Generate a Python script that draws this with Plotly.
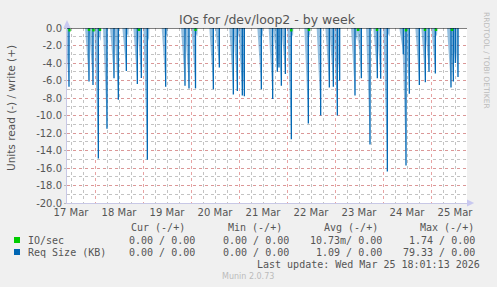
import pandas as pd
import plotly.graph_objects as go

# ---------------- data ----------------
req_times = [
    "2026-03-17 11:00", "2026-03-17 21:00", "2026-03-17 23:00", "2026-03-18 01:40",
    "2026-03-18 06:00", "2026-03-18 09:30", "2026-03-18 11:40", "2026-03-18 15:40",
    "2026-03-18 21:10", "2026-03-18 23:10", "2026-03-19 02:10", "2026-03-19 11:20",
    "2026-03-19 21:00", "2026-03-19 23:00", "2026-03-20 02:15", "2026-03-20 11:10",
    "2026-03-20 14:10", "2026-03-20 21:10", "2026-03-20 23:10", "2026-03-21 01:40",
    "2026-03-21 02:40", "2026-03-21 11:10", "2026-03-21 16:50", "2026-03-21 19:10",
    "2026-03-21 20:00", "2026-03-21 21:10", "2026-03-21 23:10", "2026-03-22 02:10",
    "2026-03-22 10:40", "2026-03-22 16:50", "2026-03-22 21:10", "2026-03-22 23:10",
    "2026-03-23 01:10", "2026-03-23 02:20", "2026-03-23 10:00", "2026-03-23 13:10",
    "2026-03-23 17:30", "2026-03-23 21:10", "2026-03-23 22:50", "2026-03-24 02:10",
    "2026-03-24 10:10", "2026-03-24 11:30", "2026-03-24 13:10", "2026-03-24 18:10",
    "2026-03-24 21:10", "2026-03-24 23:00", "2026-03-25 02:10", "2026-03-25 10:00",
    "2026-03-25 11:10", "2026-03-25 12:10", "2026-03-25 13:30",
]
req_read = [
    -6.7, -6.1, -6.5, -14.9,
    -11.5, -5.75, -8.2, -4.9,
    -6.4, -5.7, -15.05, -6.7,
    -6.6, -6.9, -6.9, -7.0,
    -4.5, -7.6, -7.2, -7.7,
    -7.8, -7.0, -8.1, -5.0,
    -4.5, -6.6, -5.25, -12.7,
    -10.9, -10.0, -6.8, -6.7,
    -10.0, -6.0, -7.7, -5.75,
    -13.3, -5.75, -5.8, -16.4,
    -3.0, -15.7, -7.5, -6.5,
    -6.2, -5.0, -5.2, -6.8,
    -6.1, -4.0, -5.6,
]
# faint short dips next to the main spikes
small_times = [
    "2026-03-17 10:20", "2026-03-18 02:50", "2026-03-18 16:40", "2026-03-19 03:00",
    "2026-03-19 12:10", "2026-03-20 03:10", "2026-03-20 23:40", "2026-03-21 11:50",
    "2026-03-22 03:00", "2026-03-22 11:30", "2026-03-23 11:10", "2026-03-24 03:15",
    "2026-03-25 03:00",
]
small_read = [-1.5, -1.5, -1.0, -1.5, -1.0, -1.0, -1.0, -1.0, -1.0, -1.0, -1.5, -1.0, -1.0]

io_times = [
    "2026-03-17 11:15", "2026-03-17 21:00", "2026-03-17 23:15", "2026-03-18 02:30",
    "2026-03-18 22:00", "2026-03-20 02:15", "2026-03-22 02:10", "2026-03-22 11:00",
    "2026-03-23 11:30", "2026-03-23 21:00", "2026-03-24 11:30", "2026-03-24 21:00",
    "2026-03-25 02:30", "2026-03-25 10:30",
]
io_read = [-0.25, -0.2, -0.25, -0.2, -0.2, -0.2, -0.25, -0.2, -0.2, -0.2, -0.25, -0.2, -0.2, -0.2]

x_start = "2026-03-17 10:00"
x_end = "2026-03-25 18:00"
y_ticks = [0, -2, -4, -6, -8, -10, -12, -14, -16, -18, -20]

legend_header = ["Cur (-/+)", "Min (-/+)", "Avg (-/+)", "Max (-/+)"]
legend_rows = [
    ("IO/sec", "#00CC00", ["0.00 / 0.00", "0.00 / 0.00", "10.73m/ 0.00", "1.74 / 0.00"]),
    ("Req Size (KB)", "#0066B3", ["0.00 / 0.00", "0.00 / 0.00", "1.09 / 0.00", "79.33 / 0.00"]),
]
last_update = "Last update: Wed Mar 25 18:01:13 2026"

# ---------------- build traces ----------------
BLUE = "#0066B3"
GREEN = "#00CC00"
h = pd.Timedelta(hours=1)

wx, wy, lx, ly = [], [], [], []
for t, v in zip(req_times + small_times, req_read + small_read):
    t = pd.Timestamp(t)
    wx += [t - 2.0 * h, t, t + 0.2 * h, None]
    wy += [0, v, 0, None]
for t, v in zip(req_times, req_read):
    t = pd.Timestamp(t)
    lx += [t, t, None]
    ly += [0, v, None]

gx, gy = [], []
for t, v in zip(io_times, io_read):
    t = pd.Timestamp(t)
    gx += [t - 0.6 * h, t, t + 0.6 * h, None]
    gy += [v, v, v, None]

fig = go.Figure()
fig.add_trace(go.Scatter(x=wx, y=wy, mode="lines", fill="toself",
                         fillcolor="rgba(0,102,179,0.42)", line=dict(width=0),
                         hoverinfo="skip", showlegend=False))
fig.add_trace(go.Scatter(x=lx, y=ly, mode="lines", line=dict(color=BLUE, width=1.3),
                         showlegend=False, name="Req Size (KB)"))
fig.add_trace(go.Scatter(x=gx, y=gy, mode="lines", line=dict(color=GREEN, width=2.5),
                         showlegend=False, name="IO/sec"))

TXT = "#555555"
fig.update_layout(
    width=497, height=287,
    margin=dict(l=67, r=30, t=28, b=84),
    paper_bgcolor="#F0F0F0", plot_bgcolor="#FFFFFF",
    font=dict(family="DejaVu Sans", size=10, color=TXT),
    showlegend=False,
    title=dict(text="IOs for /dev/loop2 - by week", x=0.5, xanchor="center",
               y=1 - 20 / 287, yanchor="middle", xref="paper",
               font=dict(family="DejaVu Sans", size=12.5, color="#555555")),
)
fig.update_xaxes(
    type="date", range=[x_start, x_end],
    tick0="2026-03-17 00:00", dtick=86400000, tickformat="%d %b",
    ticklabelmode="period", ticks="",
    showgrid=True, gridcolor="rgba(225,140,140,0.8)", griddash="dot", gridwidth=1,
    minor=dict(dtick=6 * 3600000, showgrid=True, gridcolor="rgba(185,185,185,0.85)",
               griddash="dot", gridwidth=1, ticks=""),
    showline=True, linecolor="#C8C8E6", linewidth=1,
    tickfont=dict(size=10, color=TXT), zeroline=False,
)
fig.update_yaxes(
    range=[-20, 0], tickvals=y_ticks, ticktext=[f"{v:.1f}" for v in y_ticks],
    ticks="outside", ticklen=2, tickcolor="#BBBBBB",
    showgrid=True, gridcolor="rgba(225,140,140,0.8)", griddash="dot", gridwidth=1,
    minor=dict(dtick=1, showgrid=True, gridcolor="rgba(185,185,185,0.85)",
               griddash="dot", gridwidth=1),
    showline=True, linecolor="#C8C8E6", linewidth=1,
    zeroline=False, tickfont=dict(size=10, color=TXT),
)

# zero line
fig.add_shape(type="line", xref="paper", yref="y", x0=0, x1=1, y0=0, y1=0,
              line=dict(color="#000000", width=1))
# axis arrows
fig.add_shape(type="path", xref="paper", yref="paper",
              path="M -0.009 1.0 L 0.009 1.0 L 0 1.046 Z",
              fillcolor="#C8C8F0", line=dict(width=0))
fig.add_shape(type="path", xref="paper", yref="paper",
              path="M 1.0 -0.02 L 1.0 0.02 L 1.018 0 Z",
              fillcolor="#C8C8F0", line=dict(width=0))

# ---------------- legend as text ----------------
MONO = "DejaVu Sans Mono"
def px_x(x):
    return (x - 67) / 400.0
def px_y(y):
    return (203 - y) / 175.0

def txt(x, y, s, anchor="left", color="#555555", size=10, family=MONO):
    fig.add_annotation(x=px_x(x), y=px_y(y), xref="paper", yref="paper", text=s,
                       showarrow=False, xanchor=anchor, yanchor="middle",
                       font=dict(family=family, size=size, color=color))

# y axis title
fig.add_annotation(x=px_x(11), y=px_y(108), xref="paper", yref="paper",
                   text="Units read (-) / write (+)", showarrow=False, textangle=-90,
                   xanchor="center", yanchor="middle",
                   font=dict(family="DejaVu Sans", size=10.5, color=TXT))

col_right = [197, 291, 384, 477]
head_right = [187, 284, 380, 476]
for hx, s in zip(head_right, legend_header):
    txt(hx, 227, s, anchor="right")
for (name, color, vals), yy in zip(legend_rows, [240, 252]):
    fig.add_shape(type="rect", xref="paper", yref="paper",
                  x0=px_x(14), x1=px_x(20), y0=px_y(yy + 3), y1=px_y(yy - 3),
                  fillcolor=color, line=dict(width=0))
    txt(26, yy, name)
    for cx, v in zip(col_right, vals):
        txt(cx, yy, v, anchor="right")
txt(482, 264, last_update, anchor="right")
txt(248, 276, "Munin 2.0.73", anchor="center", color="#BBBBBB", size=8, family="DejaVu Sans")
fig.add_annotation(x=px_x(487), y=px_y(60), xref="paper", yref="paper",
                   text="RRDTOOL / TOBI OETIKER", showarrow=False, textangle=90,
                   xanchor="center", yanchor="middle",
                   font=dict(family="DejaVu Sans", size=7.5, color="#BBBBBB"))

fig.write_html("out.html")
